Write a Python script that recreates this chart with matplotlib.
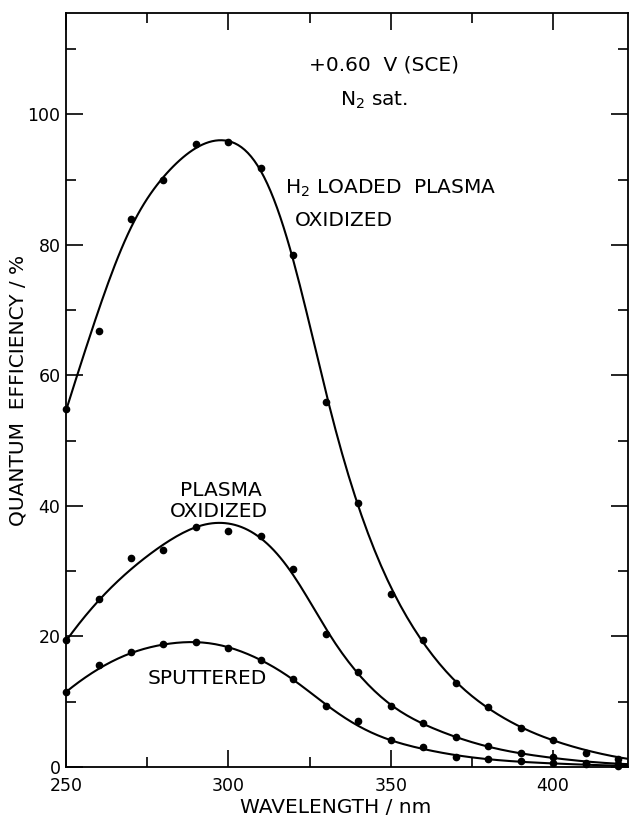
import numpy as np
import matplotlib.pyplot as plt

# measured points (nm, %)
wl = [250, 260, 270, 280, 290, 300, 310, 320, 330, 340, 350, 360, 370, 380, 390, 400, 410, 420]
h2_loaded = [54.8, 66.8, 84.0, 89.9, 95.4, 95.7, 91.8, 78.4, 55.9, 40.5, 26.5, 19.4, 12.8, 9.2, 6.0, 4.1, 2.2, 1.3]
plasma_ox = [19.4, 25.7, 32.0, 33.2, 36.8, 36.2, 35.4, 30.4, 20.3, 14.6, 9.3, 6.8, 4.6, 3.2, 2.2, 1.5, 0.6, 0.4]
sputtered = [11.5, 15.6, 17.6, 18.8, 19.1, 18.2, 16.4, 13.5, 9.3, 7.0, 4.1, 3.0, 1.6, 1.2, 0.9, 0.6, 0.4, 0.2]

# hand-drawn curves
h2_cx = [250, 255, 260, 265, 270, 280, 290, 295, 300, 310, 320, 325, 330, 340, 350, 360, 370, 380, 390, 400, 410, 420, 425]
h2_cy = [54.8, 62.3, 69.5, 77.0, 83.3, 89.8, 95.2, 95.8, 95.5, 91.5, 78.0, 68.5, 56.0, 40.5, 27.5, 19.2, 13.0, 9.1, 6.1, 4.1, 2.6, 1.5, 1.1]
pl_cx = [250, 260, 270, 280, 290, 295, 300, 310, 316, 320, 325, 330, 340, 350, 360, 370, 380, 390, 400, 410, 420, 425]
pl_cy = [19.3, 25.5, 30.3, 34.0, 36.8, 37.4, 37.2, 35.0, 31.8, 30.0, 25.6, 20.5, 14.6, 9.4, 6.7, 4.6, 3.1, 2.1, 1.4, 0.85, 0.5, 0.4]
sp_cx = [250, 260, 270, 280, 290, 295, 300, 310, 320, 330, 340, 350, 360, 370, 380, 390, 400, 410, 420, 425]
sp_cy = [11.5, 15.0, 17.5, 18.7, 19.1, 19.0, 18.3, 16.3, 13.5, 9.5, 6.3, 4.1, 2.8, 1.8, 1.2, 0.8, 0.55, 0.35, 0.2, 0.15]


def smooth_line(cx, cy, lam=2000.0):
    # penalised least squares on a 1 nm grid (smoothing-spline style)
    xs = np.arange(250, 426, 1.0)
    n = len(xs)
    W = np.zeros(n)
    rhs = np.zeros(n)
    idx = np.round(np.asarray(cx) - 250).astype(int)
    W[idx] = 1
    rhs[idx] = cy
    D = np.diff(np.eye(n), 3, axis=0)
    z = np.linalg.solve(np.diag(W) + lam * D.T @ D, rhs)
    return xs, z


plt.rcParams['font.family'] = ['DejaVu Sans']
fig = plt.figure(figsize=(6.29, 8.19), dpi=100)
ax = fig.add_axes([0.105, 0.0635, 0.893, 0.9205])

for cx, cy, py in [(h2_cx, h2_cy, h2_loaded), (pl_cx, pl_cy, plasma_ox), (sp_cx, sp_cy, sputtered)]:
    xs, ys = smooth_line(cx, cy)
    ax.plot(xs, ys, color='black', lw=1.5)
    ax.plot(wl, py, 'o', color='black', ms=4.5, clip_on=False)

ax.set_xlim(250, 423)
ax.set_ylim(0, 115.5)
ax.set_xticks([250, 300, 350, 400])
ax.set_xticks([275, 325, 375], minor=True)
ax.set_yticks([0, 20, 40, 60, 80, 100])
ax.set_yticks([10, 30, 50, 70, 90, 110], minor=True)
ax.tick_params(which='both', direction='in', top=True, right=True, width=1.2, labelsize=12.5)
ax.tick_params(which='major', length=12)
ax.tick_params(which='minor', length=7)
ax.tick_params(axis='y', pad=4)
ax.tick_params(axis='x', pad=7.5)
for s in ax.spines.values():
    s.set_linewidth(1.3)

ax.set_xlabel('WAVELENGTH / nm', fontsize=14.5, labelpad=2, x=0.48)
ax.set_ylabel('QUANTUM  EFFICIENCY / %', fontsize=14.5)
ax.yaxis.set_label_coords(-0.068, 0.5)

fs = 14.5
ax.text(348, 107.5, '+0.60  V (SCE)', fontsize=fs, ha='center', va='center')
ax.text(345, 102.1, 'N$_2$ sat.', fontsize=fs, ha='center', va='center')
ax.text(317.5, 88.7, 'H$_2$ LOADED  PLASMA', fontsize=fs, ha='left', va='center')
ax.text(320.5, 83.8, 'OXIDIZED', fontsize=fs, ha='left', va='center')
ax.text(297.8, 42.4, 'PLASMA', fontsize=fs, ha='center', va='center')
ax.text(297.2, 39.2, 'OXIDIZED', fontsize=fs, ha='center', va='center')
ax.text(293.4, 13.5, 'SPUTTERED', fontsize=fs, ha='center', va='center')

fig.savefig('out.png', dpi=100)
